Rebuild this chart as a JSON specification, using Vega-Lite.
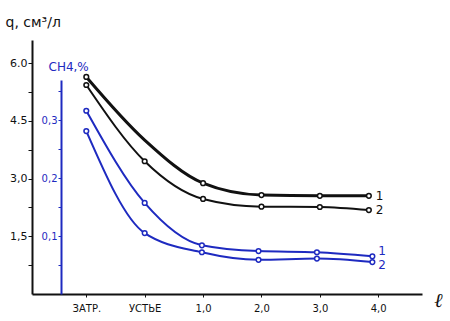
{
  "$schema": "https://vega.github.io/schema/vega-lite/v6.json",
  "width": 390,
  "height": 254,
  "autosize": {"type": "none"},
  "padding": {"left": 32, "top": 40, "right": 28, "bottom": 27},
  "background": "white",
  "config": {"view": {"stroke": null}, "font": "DejaVu Sans"},
  "datasets": {
    "q": [
      {"s": "1", "x": -1, "q": 5.64, "m": 1},
      {"s": "1", "x": 0, "q": 4.0, "m": 0},
      {"s": "1", "x": 1, "q": 2.88, "m": 1},
      {"s": "1", "x": 2, "q": 2.57, "m": 1},
      {"s": "1", "x": 3, "q": 2.55, "m": 1},
      {"s": "1", "x": 3.84, "q": 2.55, "m": 1},
      {"s": "2", "x": -1, "q": 5.43, "m": 1},
      {"s": "2", "x": 0, "q": 3.45, "m": 1},
      {"s": "2", "x": 1, "q": 2.47, "m": 1},
      {"s": "2", "x": 2, "q": 2.27, "m": 1},
      {"s": "2", "x": 3, "q": 2.26, "m": 1},
      {"s": "2", "x": 3.84, "q": 2.18, "m": 1}
    ],
    "ch4": [
      {"s": "1", "x": -1, "c": 0.316},
      {"s": "1", "x": 0, "c": 0.157},
      {"s": "1", "x": 0.98, "c": 0.084},
      {"s": "1", "x": 1.95, "c": 0.074},
      {"s": "1", "x": 2.95, "c": 0.072},
      {"s": "1", "x": 3.9, "c": 0.065},
      {"s": "2", "x": -1, "c": 0.281},
      {"s": "2", "x": 0, "c": 0.105},
      {"s": "2", "x": 0.98, "c": 0.072},
      {"s": "2", "x": 1.95, "c": 0.059},
      {"s": "2", "x": 2.95, "c": 0.061},
      {"s": "2", "x": 3.9, "c": 0.055}
    ]
  },
  "layer": [
    {
      "data": {"name": "q"},
      "encoding": {
        "x": {
          "field": "x", "type": "quantitative",
          "scale": {"domain": [-1.93, 4.75], "nice": false, "zero": false},
          "axis": {
            "values": [-1, 0, 1, 2, 3, 4],
            "labelExpr": "datum.value == -1 ? 'ЗАТР.' : datum.value == 0 ? 'УСТЬЕ' : replace(format(datum.value, '.1f'), '.', ',')",
            "domainColor": "#111", "domainWidth": 2, "tickColor": "#111", "tickSize": 3,
            "grid": false, "labelColor": "#111", "labelFontSize": 10, "labelPadding": 6,
            "title": "ℓ", "titleFont": "DejaVu Serif", "titleFontStyle": "italic", "titleFontWeight": "normal",
            "titleFontSize": 20, "titleX": 406, "titleY": 6, "titleAlign": "center", "titleBaseline": "middle", "titleColor": "#111"
          }
        },
        "y": {
          "field": "q", "type": "quantitative",
          "scale": {"domain": [0, 6.6], "nice": false},
          "axis": {
            "values": [0.75, 1.5, 2.25, 3, 3.75, 4.5, 5.25, 6],
            "labelExpr": "datum.value == 6 ? '6.0' : datum.value == 4.5 ? '4.5' : datum.value == 3 ? '3,0' : datum.value == 1.5 ? '1,5' : ''",
            "domainColor": "#111", "domainWidth": 2, "tickColor": "#111", "tickSize": 4,
            "grid": false, "labelColor": "#111", "labelFontSize": 11, "labelPadding": 1,
            "title": "q, см³/л", "titleAngle": 0, "titleX": -27, "titleY": -18, "titleAlign": "left", "titleBaseline": "middle",
            "titleFontSize": 14, "titleFontWeight": "normal", "titleColor": "#111"
          }
        }
      },
      "layer": [
        {
          "mark": {"type": "line", "interpolate": "monotone", "color": "#111"},
          "encoding": {
            "detail": {"field": "s"},
            "strokeWidth": {"field": "s", "type": "nominal", "scale": {"domain": ["1", "2"], "range": [3, 2]}, "legend": null}
          }
        },
        {
          "transform": [{"filter": "datum.m == 1"}],
          "mark": {"type": "point", "shape": "circle", "filled": true, "fill": "white", "stroke": "#111", "strokeWidth": 1.5, "size": 22, "opacity": 1}
        },
        {
          "transform": [{"filter": "datum.x > 3.5"}],
          "mark": {"type": "text", "align": "left", "baseline": "middle", "dx": 7, "fontSize": 12, "color": "#111"},
          "encoding": {"text": {"field": "s"}}
        }
      ]
    },
    {
      "data": {"name": "ch4"},
      "encoding": {
        "x": {"field": "x", "type": "quantitative", "scale": {"domain": [-1.93, 4.75], "nice": false, "zero": false}},
        "y": {
          "field": "c", "type": "quantitative",
          "scale": {"domain": [0, 0.369], "range": [254, 40], "nice": false},
          "axis": {
            "orient": "left", "offset": -29,
            "values": [0.05, 0.1, 0.15, 0.2, 0.25, 0.3, 0.35],
            "labelExpr": "datum.value == 0.1 ? '0,1' : datum.value == 0.2 ? '0,2' : datum.value == 0.3 ? '0,3' : ''",
            "domainColor": "#1e2ac0", "domainWidth": 2, "tickColor": "#1e2ac0", "tickSize": 3,
            "grid": false, "labelColor": "#1e2ac0", "labelFontSize": 10, "labelPadding": 1,
            "title": "CH4,%", "titleAngle": 0, "titleX": -13, "titleY": 26, "titleAlign": "left", "titleBaseline": "middle",
            "titleFontSize": 12, "titleFontWeight": "normal", "titleColor": "#1e2ac0"
          }
        }
      },
      "layer": [
        {
          "mark": {"type": "line", "interpolate": "monotone", "color": "#1e2ac0", "strokeWidth": 2},
          "encoding": {"detail": {"field": "s"}}
        },
        {
          "mark": {"type": "point", "shape": "circle", "filled": true, "fill": "white", "stroke": "#1e2ac0", "strokeWidth": 1.5, "size": 22, "opacity": 1}
        },
        {
          "transform": [{"filter": "datum.x > 3.5 && datum.s == '1'"}],
          "mark": {"type": "text", "align": "left", "baseline": "middle", "dx": 6, "dy": -5, "fontSize": 12, "color": "#1e2ac0"},
          "encoding": {"text": {"field": "s"}}
        },
        {
          "transform": [{"filter": "datum.x > 3.5 && datum.s == '2'"}],
          "mark": {"type": "text", "align": "left", "baseline": "middle", "dx": 6, "dy": 3, "fontSize": 12, "color": "#1e2ac0"},
          "encoding": {"text": {"field": "s"}}
        }
      ]
    }
  ],
  "resolve": {"scale": {"y": "independent"}, "axis": {"y": "independent"}}
}
